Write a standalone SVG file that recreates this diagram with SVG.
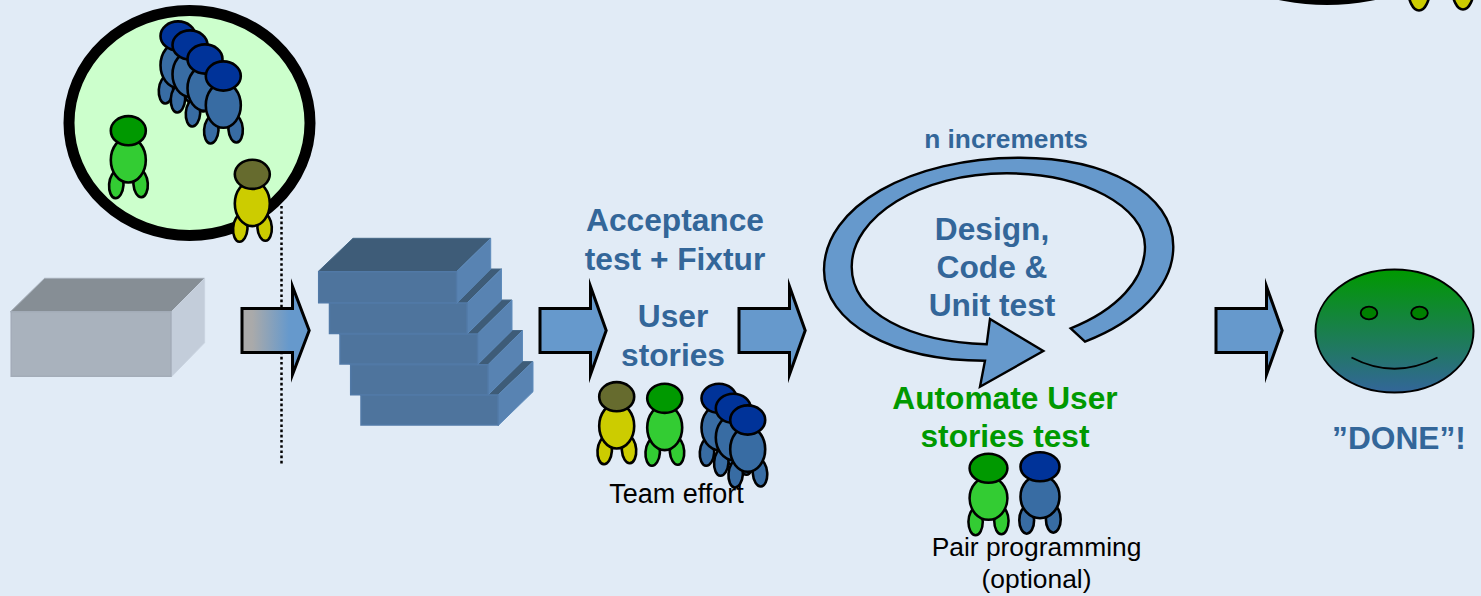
<svg xmlns="http://www.w3.org/2000/svg" xmlns:xlink="http://www.w3.org/1999/xlink" width="1481" height="596" viewBox="0 0 1481 596">
<style>
text{font-family:"Liberation Sans",Arial,sans-serif;text-anchor:middle}
.h{font-weight:bold;font-size:31.7px;fill:#336699}
.g{font-weight:bold;font-size:31.7px;fill:#009900}
.n{font-size:26.4px;fill:#000}
.b{stroke:#000;stroke-width:2.6}
.arrow{fill:#6699CC;stroke:#000;stroke-width:3;stroke-linejoin:miter;stroke-miterlimit:12}
.blue{fill:#386CA3;color:#003399}
.green{fill:#33CC33;color:#009900}
.yellow{fill:#CCCC00;color:#666B2E}
.f{fill:#4E749D;stroke:#5179A6;stroke-width:1.5}
.s{fill:#5883B2;stroke:#5E8BBB;stroke-width:1}
.t{fill:#3E5C78;stroke:#466887;stroke-width:1}
</style>
<defs>
<linearGradient id="ag" x1="0" y1="0" x2="1" y2="0"><stop offset="0.15" stop-color="#AAAAAA"/><stop offset="0.7" stop-color="#6699CC"/></linearGradient>
<linearGradient id="fg" x1="0" y1="0" x2="0" y2="1"><stop offset="0" stop-color="#009900"/><stop offset="1" stop-color="#336699"/></linearGradient>
<g id="p" class="b">
<ellipse cx="-12" cy="54" rx="7.200" ry="13.500" transform="rotate(4 -12 54)"/>
<ellipse cx="12.300" cy="53" rx="7.200" ry="13.500" transform="rotate(-4 12.300 53)"/>
<ellipse cx="0" cy="29.300" rx="17.500" ry="22.500"/>
<ellipse cx="0" cy="0" rx="17.500" ry="14.600" fill="currentColor"/>
</g>
<g id="p2" class="b">
<ellipse cx="-13.300" cy="53.500" rx="7.400" ry="13.500"/>
<ellipse cx="13.300" cy="52.500" rx="7.400" ry="13.500"/>
<ellipse cx="0" cy="30" rx="19.500" ry="21.500"/>
<ellipse cx="0" cy="0" rx="19.500" ry="14.500" fill="currentColor"/>
</g>
<path id="ar" class="arrow" d="M1 1.500H51.500V-20.500L67.200 23.500 51.500 67.500V45.500H1Z"/>
</defs>
<rect width="1481" height="596" fill="#E1EBF6"/>
<g id="connectors">
<path d="M281.500 206V465" fill="none" stroke="#000" stroke-width="2.500" stroke-dasharray="2.600 2.600"/>
<g id="arrow1"><path class="arrow" style="fill:url(#ag)" d="M242 308.500H292.500V286.500L309.200 330.500 292.500 374.500V352.500H242Z"/></g>
<use id="arrow2" xlink:href="#ar" x="539" y="307"/>
<use id="arrow3" xlink:href="#ar" x="738" y="307"/>
<use id="arrow4" xlink:href="#ar" x="1215" y="307"/>
</g>
<g id="top-right-crowd">
<ellipse cx="1327" cy="-200" rx="220" ry="205" fill="#000"/>
<ellipse cx="1419" cy="-12" rx="11" ry="22.500" fill="#CCCC00" class="b"/>
<ellipse cx="1463" cy="-13" rx="11" ry="22.500" fill="#CCCC00" class="b"/>
</g>
<g id="team-circle">
<ellipse cx="189.500" cy="123" rx="120.500" ry="112.500" fill="#CCFFCC" stroke="#000" stroke-width="11"/>
<use xlink:href="#p" class="blue" x="178" y="36"/>
<use xlink:href="#p" class="blue" x="190" y="45"/>
<use xlink:href="#p" class="blue" x="205" y="59"/>
<use xlink:href="#p" class="blue" x="223.300" y="76"/>
<use xlink:href="#p" class="green" x="128.300" y="130.700"/>
<use xlink:href="#p" class="yellow" x="252.300" y="174.300"/>
</g>
<g id="grey-box">
<path class="t" style="fill:#868E95;stroke:#A4ADB8" d="M10.500 311.700L44.600 278.300H204.600L171.500 311.700Z"/>
<path class="s" style="fill:#C3CDDA;stroke:#C9D3E0" d="M171.500 311.700L204.600 278.300V342.700L171.500 376.700Z"/>
<path class="f" style="fill:#A9B2BD;stroke:#A3ACB8" d="M11.200 311.700H171V376.200H11.200Z"/>
</g>
<g id="backlog-stack">
<g><path class="t" d="M360.700 395L395 361.600H533L498 395Z"/><path class="s" d="M498 395L533 361.600V391.700L498 425.700Z"/><path class="f" d="M361 395H498V425H361Z"/></g>
<g><path class="t" d="M350 364.700L384 330.500H522.500L488 364.700Z"/><path class="s" d="M488 364.700L522.500 330.500V361L488 395Z"/><path class="f" d="M350.700 364.700H488V394.700H350.700Z"/></g>
<g><path class="t" d="M339.500 334L374 300H512L477.500 334Z"/><path class="s" d="M477.500 334L512 300V330.500L477.500 364.700Z"/><path class="f" d="M340 334H477.500V364H340Z"/></g>
<g><path class="t" d="M329 303L363 269H501.500L467 303Z"/><path class="s" d="M467 303L501.500 269V300L467 334Z"/><path class="f" d="M329.500 303H467V333.500H329.500Z"/></g>
<g><path class="t" d="M318 271.700L353 238.300H490.700L456.500 271.700Z"/><path class="s" d="M456.500 271.700L490.700 238.300V269L456.500 303.300Z"/><path class="f" d="M318.700 271.700H456.500V302.800H318.700Z"/></g>
</g>
<g id="acceptance-text"><text class="h" x="675" y="231">Acceptance</text><text class="h" x="675" y="270">test + Fixtur</text></g>
<g id="user-stories-text"><text class="h" x="673" y="327">User</text><text class="h" x="673" y="366">stories</text></g>
<g id="team-effort">
<use xlink:href="#p" class="yellow" x="616.700" y="396.700"/>
<use xlink:href="#p" class="green" x="664.700" y="398.300"/>
<use xlink:href="#p" class="blue" x="719" y="398.300"/>
<use xlink:href="#p" class="blue" x="733.300" y="408.300"/>
<use xlink:href="#p" class="blue" x="747.700" y="420"/>
<text class="n" style="font-size:27px" x="676.500" y="503">Team effort</text>
</g>
<g id="loop-arrow">
<path fill="#6699CC" stroke="#000" stroke-width="2.400" stroke-linejoin="miter" d="M1085 341.700C1136.700 321.700 1173.300 286.700 1173.300 246.700C1173.300 193.300 1106.700 157.700 1020 157.700C910 157.700 824 206.700 824 270C824 323.300 893.300 360.700 985 360.700L980 386.700L1043.300 351L990 319L986.700 344.300C910 341.700 851.700 313.300 851.700 266.700C851.700 216.700 920 173.300 1006.700 173.300C1083.300 173.300 1145 206.700 1145 246.700C1145 280 1116.700 310 1070.700 328.300Z"/>
</g>
<g id="increments-label"><text class="h" style="font-size:26.300px" x="1006" y="148">n increments</text></g>
<g id="design-text"><text class="h" x="992" y="239.500">Design,</text><text class="h" x="992" y="278">Code &amp;</text><text class="h" x="992" y="316">Unit test</text></g>
<g id="automate-text"><text class="g" x="1005" y="409">Automate User</text><text class="g" x="1005" y="447">stories test</text></g>
<g id="pair-programming">
<g transform="translate(988.500 468.300) scale(0.97 1)"><use xlink:href="#p2" class="green"/></g>
<use xlink:href="#p2" class="blue" x="1040" y="466.700"/>
<text class="n" x="1036.500" y="556">Pair programming</text><text class="n" x="1036.500" y="588">(optional)</text>
</g>
<g id="done-face">
<ellipse cx="1394.500" cy="331" rx="79" ry="61.500" fill="url(#fg)" stroke="#000" stroke-width="2"/>
<ellipse cx="1369" cy="313" rx="8.300" ry="6.300" fill="#008000" stroke="#000" stroke-width="1.800"/>
<ellipse cx="1419.500" cy="313" rx="8.300" ry="6.300" fill="#008000" stroke="#000" stroke-width="1.800"/>
<path d="M1351.500 357.500Q1394.500 380 1437.500 357.500" fill="none" stroke="#000" stroke-width="1.800"/>
<text class="h" x="1399" y="449">”DONE”!</text>
</g>
</svg>
